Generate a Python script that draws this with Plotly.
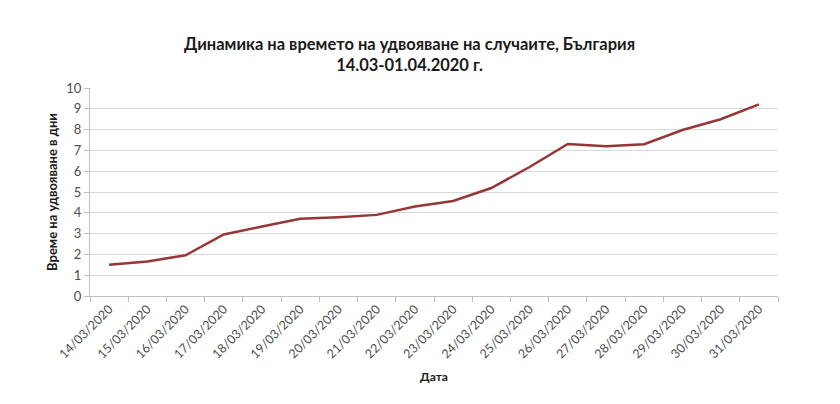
import plotly.graph_objects as go

# doubling time of cases, Bulgaria
dates = ['14/03/2020', '15/03/2020', '16/03/2020', '17/03/2020', '18/03/2020', '19/03/2020',
         '20/03/2020', '21/03/2020', '22/03/2020', '23/03/2020', '24/03/2020', '25/03/2020',
         '26/03/2020', '27/03/2020', '28/03/2020', '29/03/2020', '30/03/2020', '31/03/2020']
days = [1.5, 1.66, 1.96, 2.96, 3.34, 3.71, 3.79, 3.9, 4.3, 4.57, 5.19, 6.2,
        7.31, 7.2, 7.3, 7.98, 8.5, 9.21]
y_ticks = [0, 1, 2, 3, 4, 5, 6, 7, 8, 9, 10]

fig = go.Figure(go.Scatter(
    x=dates, y=days, mode='lines',
    line=dict(color='#953735', width=2.5),
))

fig.update_layout(
    width=840, height=404,
    margin=dict(l=82, r=70, t=80, b=116),
    paper_bgcolor='white', plot_bgcolor='white',
    showlegend=False,
    font=dict(family='Lato', color='#4d4d4d', size=12),
    title=dict(
        text='<b>Динамика на времето на удвояване на случаите, България<br>14.03-01.04.2020 г.</b>',
        x=0.478, xanchor='center', yref='container', y=1 - 42 / 404, yanchor='top',
        font=dict(family='Lato', size=16.5, color='#1a1a1a'),
    ),
)

fig.update_xaxes(
    type='category', range=[-0.5, len(dates) - 0.5], automargin=False,
    tickangle=-45, tickson='boundaries',
    ticks='outside', ticklen=5, tickcolor='#bfbfbf',
    showline=True, linecolor='#bfbfbf', linewidth=1,
    showgrid=False, tickfont=dict(size=12.5, color='#4d4d4d'),
    title=dict(text='<b>Дата</b>', font=dict(size=12, color='#1a1a1a'), standoff=12),
)

fig.update_yaxes(
    range=[0, 10], tickvals=y_ticks, automargin=False,
    ticks='outside', ticklen=5, tickcolor='#bfbfbf',
    showline=True, linecolor='#bfbfbf', linewidth=1,
    showgrid=True, gridcolor='#d9d9d9', gridwidth=1,
    zeroline=False, tickfont=dict(size=13, color='#4d4d4d'),
    title=dict(text='<b>Време на удвояване в дни</b>', font=dict(size=13, color='#1a1a1a'), standoff=5),
)

fig.write_html("out.html")
